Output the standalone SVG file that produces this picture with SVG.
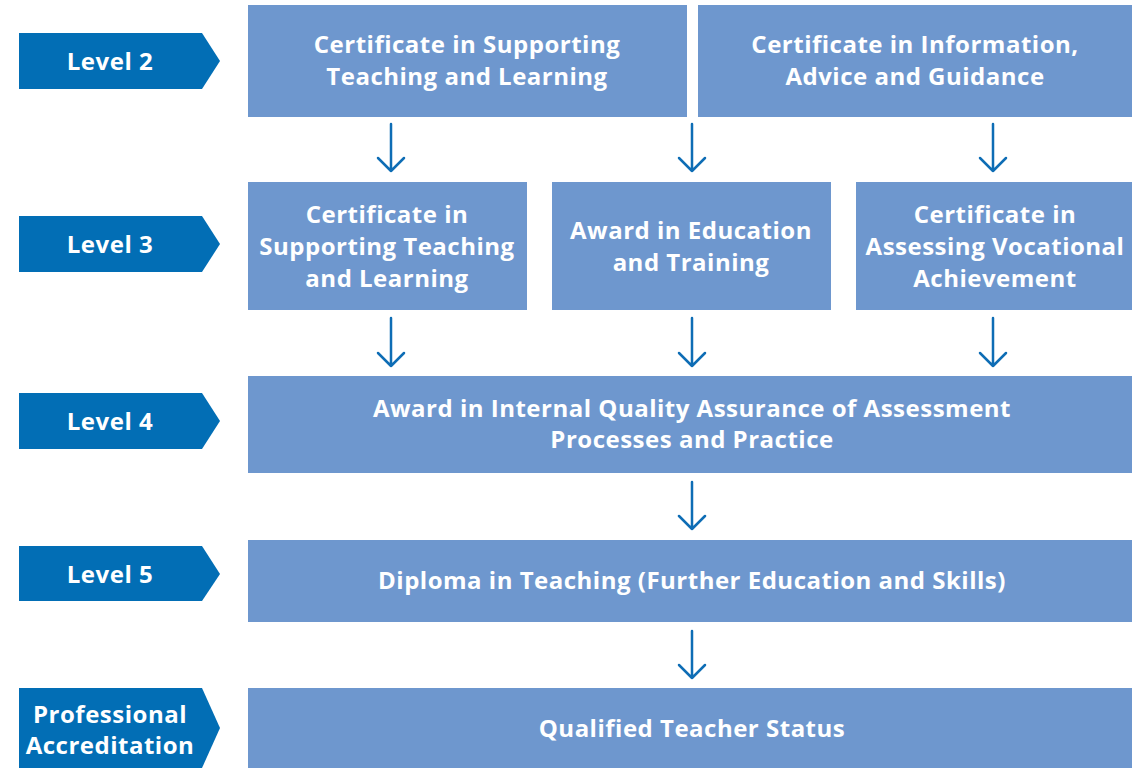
<svg xmlns="http://www.w3.org/2000/svg" width="1132" height="768" viewBox="0 0 1132 768">
<defs>
<style>
.tag{fill:#026EB5}
.box{fill:#6E97CE}
.t{font-family:"Open Sans","Liberation Sans",sans-serif;font-weight:700;font-size:24px;letter-spacing:0.5px;fill:#fff;text-anchor:middle}
.arr{stroke:#0E6DB5;stroke-width:2.5;fill:none;stroke-linecap:round;stroke-linejoin:round}
</style>
</defs>
<rect width="1132" height="768" fill="#fff"/>
<g id="tag-level2"><polygon class="tag" points="19,33 202,33 220,61 202,89 19,89"/><text class="t" x="110" y="70">Level 2</text></g>
<g id="tag-level3"><polygon class="tag" points="19,216 202,216 220,244 202,272 19,272"/><text class="t" x="110" y="253">Level 3</text></g>
<g id="tag-level4"><polygon class="tag" points="19,393 202,393 220,421 202,449 19,449"/><text class="t" x="110" y="430">Level 4</text></g>
<g id="tag-level5"><polygon class="tag" points="19,546 202,546 220,574 202,601 19,601"/><text class="t" x="110" y="583">Level 5</text></g>
<g id="tag-pa"><polygon class="tag" points="19,688 202,688 220,728 202,768 19,768"/><text class="t" x="110" y="723">Professional</text><text class="t" x="110" y="754">Accreditation</text></g>

<g id="l2-stl"><rect class="box" x="248" y="5" width="439" height="112"/><text class="t" x="467" y="53">Certificate in Supporting</text><text class="t" x="467" y="85">Teaching and Learning</text></g>
<g id="l2-iag"><rect class="box" x="698" y="5" width="434" height="112"/><text class="t" x="915" y="53">Certificate in Information,</text><text class="t" x="915" y="85">Advice and Guidance</text></g>

<g id="l3-stl"><rect class="box" x="248" y="182" width="279" height="128"/><text class="t" x="387" y="223">Certificate in</text><text class="t" x="387" y="255">Supporting Teaching</text><text class="t" x="387" y="287">and Learning</text></g>
<g id="l3-aet"><rect class="box" x="552" y="182" width="279" height="128"/><text class="t" x="691" y="239">Award in Education</text><text class="t" x="691" y="271">and Training</text></g>
<g id="l3-ava"><rect class="box" x="856" y="182" width="276" height="128"/><text class="t" x="995" y="223">Certificate in</text><text class="t" x="995" y="255">Assessing Vocational</text><text class="t" x="995" y="287">Achievement</text></g>

<g id="l4-iqa"><rect class="box" x="248" y="376" width="884" height="97"/><text class="t" x="692" y="417">Award in Internal Quality Assurance of Assessment</text><text class="t" x="692" y="448">Processes and Practice</text></g>
<g id="l5-dip"><rect class="box" x="248" y="540" width="884" height="82"/><text class="t" x="692" y="589">Diploma in Teaching (Further Education and Skills)</text></g>
<g id="pa-qts"><rect class="box" x="248" y="688" width="884" height="80"/><text class="t" x="692" y="737">Qualified Teacher Status</text></g>

<g id="connectors">
<path class="arr" d="M391,124V171M378,158L391,171L404,158"/>
<path class="arr" d="M692,124V171M679,158L692,171L705,158"/>
<path class="arr" d="M993,124V171M980,158L993,171L1006,158"/>
<path class="arr" d="M391,318V366M378,353L391,366L404,353"/>
<path class="arr" d="M692,318V366M679,353L692,366L705,353"/>
<path class="arr" d="M993,318V366M980,353L993,366L1006,353"/>
<path class="arr" d="M692,482V529M679,516L692,529L705,516"/>
<path class="arr" d="M692,631V678M679,665L692,678L705,665"/>
</g>
</svg>
